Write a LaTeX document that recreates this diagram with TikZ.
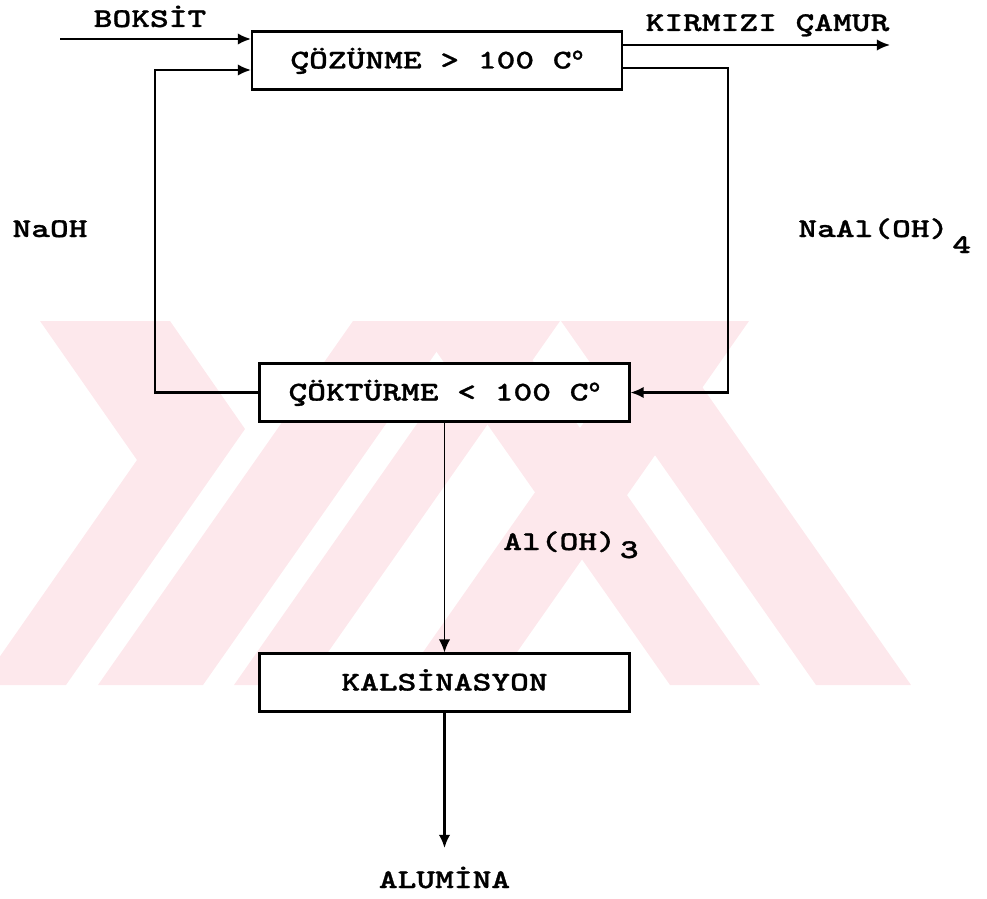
\documentclass[tikz,border=0pt]{standalone}
\usepackage{fontspec}
\setmonofont{lmmonolt10-bold.otf}[FakeStretch=1.32, FakeBold=1.0]
\newfontfamily\degfont{Liberation Serif}[FakeBold=1.2]
\usetikzlibrary{arrows.meta}
\definecolor{wm}{RGB}{253,232,236}
\newcommand{\degsym}{{\degfont\bfseries\fontsize{17}{17}\selectfont\raisebox{-0.04cm}{°}}}
\begin{document}
\begin{tikzpicture}[x=0.02cm,y=-0.02cm,
  font=\ttfamily\fontsize{15.4}{18}\selectfont,
  box/.style={draw, line width=1.2pt, fill=white, inner sep=0pt,
    minimum width=7.4cm, minimum height=1.16cm, text height=0.32cm, text depth=0cm},
  lbl/.style={inner sep=0pt, anchor=base},
  arr/.style={-{Latex[length=7.5pt,width=6.5pt]}, line width=1.2pt},
  band/.style={fill=wm}]
\useasboundingbox (0,0) rectangle (987,899);
% watermark
\begin{scope}
\clip (0,321) rectangle (987,685);
% left chevron
\fill[band] (40,321) -- (170,321) -- (245,429) -- (66,685) -- (-20,685) -- (137,460) -- cycle;
% "/" stripes
\fill[band] (353,321) -- (458,321) -- (203,685) -- (98,685) -- cycle;
\fill[band] (489,321) -- (560,321) -- (305,685) -- (234,685) -- cycle;
\fill[band] (655,321) -- (749,321) -- (494,685) -- (400,685) -- cycle;
% "\" stripes
\fill[band] (415,321) -- (505,321) -- (760,685) -- (670,685) -- cycle;
\fill[band] (561,321) -- (656,321) -- (911,685) -- (816,685) -- cycle;
\end{scope}
% boxes
\node[box] (coz) at (437,60.5) {ÇÖZÜNME > 100 C\degsym};
\node[box] (cok) at (444.5,392.5) {ÇÖKTÜRME < 100 C\degsym};
\node[box] (kal) at (444.5,682.5) {KALSİNASYON};
% labels
\node[lbl] (boksit) at (150,27) {BOKSİT};
\node[lbl] (kirmizi) at (767.5,31) {KIRMIZI ÇAMUR};
\node[lbl] (naoh) at (50,237) {NaOH};
\node[lbl, anchor=base west] (naal) at (798,237) {NaAl(OH)\kern0.08cm\raisebox{-0.32cm}{4}};
\node[lbl, anchor=base west] (aloh) at (503,550) {Al(OH)\kern0.08cm\raisebox{-0.16cm}{3}};
\node[lbl] (alumina) at (444.5,888) {ALUMİNA};
% connectors
\coordinate (bin) at (60,39);
\draw[arr] (bin) -- (bin -| coz.west);
\coordinate (kout) at (890,45);
\draw[arr] (kout -| coz.east) -- (kout);
\coordinate (lc) at (155,70);
\draw[arr] (cok.west) -| (lc) -- (lc -| coz.west);
\coordinate (rc) at (728,68);
\draw[arr] (rc -| coz.east) -- (rc) |- (cok.east);
\draw[arr, line width=0.9pt] (cok.south) -- (kal.north);
\coordinate (aend) at (444.5,848);
\draw[arr] (kal.south) -- (aend);
\end{tikzpicture}
\end{document}
